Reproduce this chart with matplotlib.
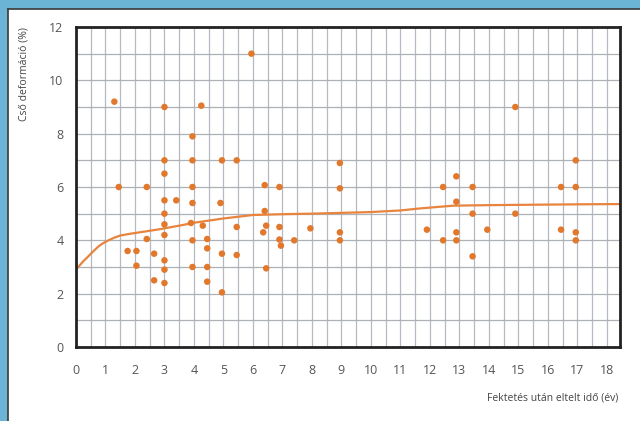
import matplotlib.pyplot as plt
from matplotlib.patches import Rectangle
from matplotlib.lines import Line2D

# measured deformation points (years after laying, deformation %)
years = [1.3, 1.45, 1.75, 2.05, 2.05, 2.4, 2.4, 2.65, 2.65,
         3.0, 3.0, 3.0, 3.0, 3.0, 3.0, 3.0, 3.0, 3.0, 3.0, 3.4,
         3.95, 3.95, 3.95, 3.95, 3.9, 3.95, 3.95,
         4.25, 4.3, 4.45, 4.45, 4.45, 4.45,
         4.95, 4.9, 4.95, 4.95, 5.45, 5.45, 5.45, 5.95,
         6.4, 6.4, 6.45, 6.35, 6.45, 6.9, 6.9, 6.9, 6.95, 7.4, 7.95,
         8.95, 8.95, 8.95, 8.95,
         11.9, 12.45, 12.45, 12.9, 12.9, 12.9, 12.9,
         13.45, 13.45, 13.45, 13.95, 14.9, 14.9,
         16.45, 16.45, 16.95, 16.95, 16.95, 16.95]
deform = [9.2, 6.0, 3.6, 3.6, 3.05, 6.0, 4.05, 3.5, 2.5,
          9.0, 7.0, 6.5, 5.5, 5.0, 4.6, 4.2, 3.25, 2.9, 2.4, 5.5,
          7.9, 7.0, 6.0, 5.4, 4.65, 4.0, 3.0,
          9.05, 4.55, 4.05, 3.7, 3.0, 2.45,
          7.0, 5.4, 3.5, 2.05, 7.0, 4.5, 3.45, 11.0,
          6.07, 5.1, 4.55, 4.3, 2.95, 6.0, 4.5, 4.03, 3.8, 4.0, 4.45,
          6.9, 5.95, 4.3, 4.0,
          4.4, 6.0, 4.0, 6.4, 5.45, 4.3, 4.0,
          6.0, 5.0, 3.4, 4.4, 9.0, 5.0,
          6.0, 4.4, 7.0, 6.0, 4.3, 4.0]

# trend curve
curve_x = [0, 0.1, 0.25, 0.4, 0.55, 0.75, 0.9, 1.1, 1.3, 1.5, 1.8, 2.1, 2.8, 3.6,
           4, 5, 6, 7, 8, 9, 10, 11, 11.7, 12.8, 14, 15, 16, 17, 18.45]
curve_y = [2.9, 3.03, 3.22, 3.38, 3.55, 3.76, 3.88, 4.0, 4.1, 4.18, 4.24, 4.29, 4.41, 4.57,
           4.66, 4.82, 4.95, 4.98, 5.0, 5.03, 5.06, 5.12, 5.2, 5.3, 5.32, 5.33, 5.34, 5.35, 5.36]

x_ticks = list(range(0, 19))
y_ticks = [0, 2, 4, 6, 8, 10, 12]

orange = "#e2782c"
blue = "#6cb4d6"
plt.rcParams["font.family"] = ["Open Sans", "DejaVu Sans"]

fig = plt.figure(figsize=(6.4, 4.21), dpi=100)
fig.patch.set_facecolor("white")

# blue frame on top and left with a dark edge
fig.patches.append(Rectangle((0, 1 - 8 / 421), 1, 8 / 421, transform=fig.transFigure,
                             color=blue, zorder=0))
fig.patches.append(Rectangle((0, 0), 7 / 640, 1, transform=fig.transFigure,
                             color=blue, zorder=0))
fig.lines.append(Line2D([7.5 / 640, 1], [1 - 8.5 / 421, 1 - 8.5 / 421],
                        transform=fig.transFigure, color="#3a3a3a", lw=1.2))
fig.lines.append(Line2D([7.5 / 640, 7.5 / 640], [0, 1 - 8.5 / 421],
                        transform=fig.transFigure, color="#3a3a3a", lw=1.2))

ax = fig.add_axes([76 / 640, 1 - 347 / 421, 544 / 640, 320 / 421])
ax.set_xlim(0, 18.45)
ax.set_ylim(0, 12)

# grid: half-year verticals, unit horizontals
for gx in [i * 0.5 for i in range(1, 37)]:
    ax.axvline(gx, color="#b6b9c0", lw=0.9, zorder=1)
for gy in range(1, 12):
    ax.axhline(gy, color="#adb0b7", lw=0.9, zorder=1)

ax.plot(curve_x, curve_y, color="#e8843e", lw=1.6, zorder=2, solid_capstyle="round")
ax.scatter(years, deform, s=22, color=orange, edgecolors="none", zorder=3)

for sp in ax.spines.values():
    sp.set_linewidth(2.0)
    sp.set_color("#222222")

ax.set_xticks(x_ticks)
ax.set_yticks(y_ticks)
ax.tick_params(length=0, labelsize=9, labelcolor="#555555")
ax.tick_params(axis="x", pad=12)
ax.tick_params(axis="y", pad=9)

fig.text(618 / 640, 1 - 398 / 421, "Fektetés után eltelt idő (év)", ha="right", va="center",
         fontsize=7.5, color="#444444")
fig.text(24 / 640, 1 - 27 / 421, "Cső deformáció (%)", rotation=90, ha="center", va="top",
         fontsize=7.5, color="#444444")

fig.savefig("out.png", dpi=100, facecolor=fig.get_facecolor())
